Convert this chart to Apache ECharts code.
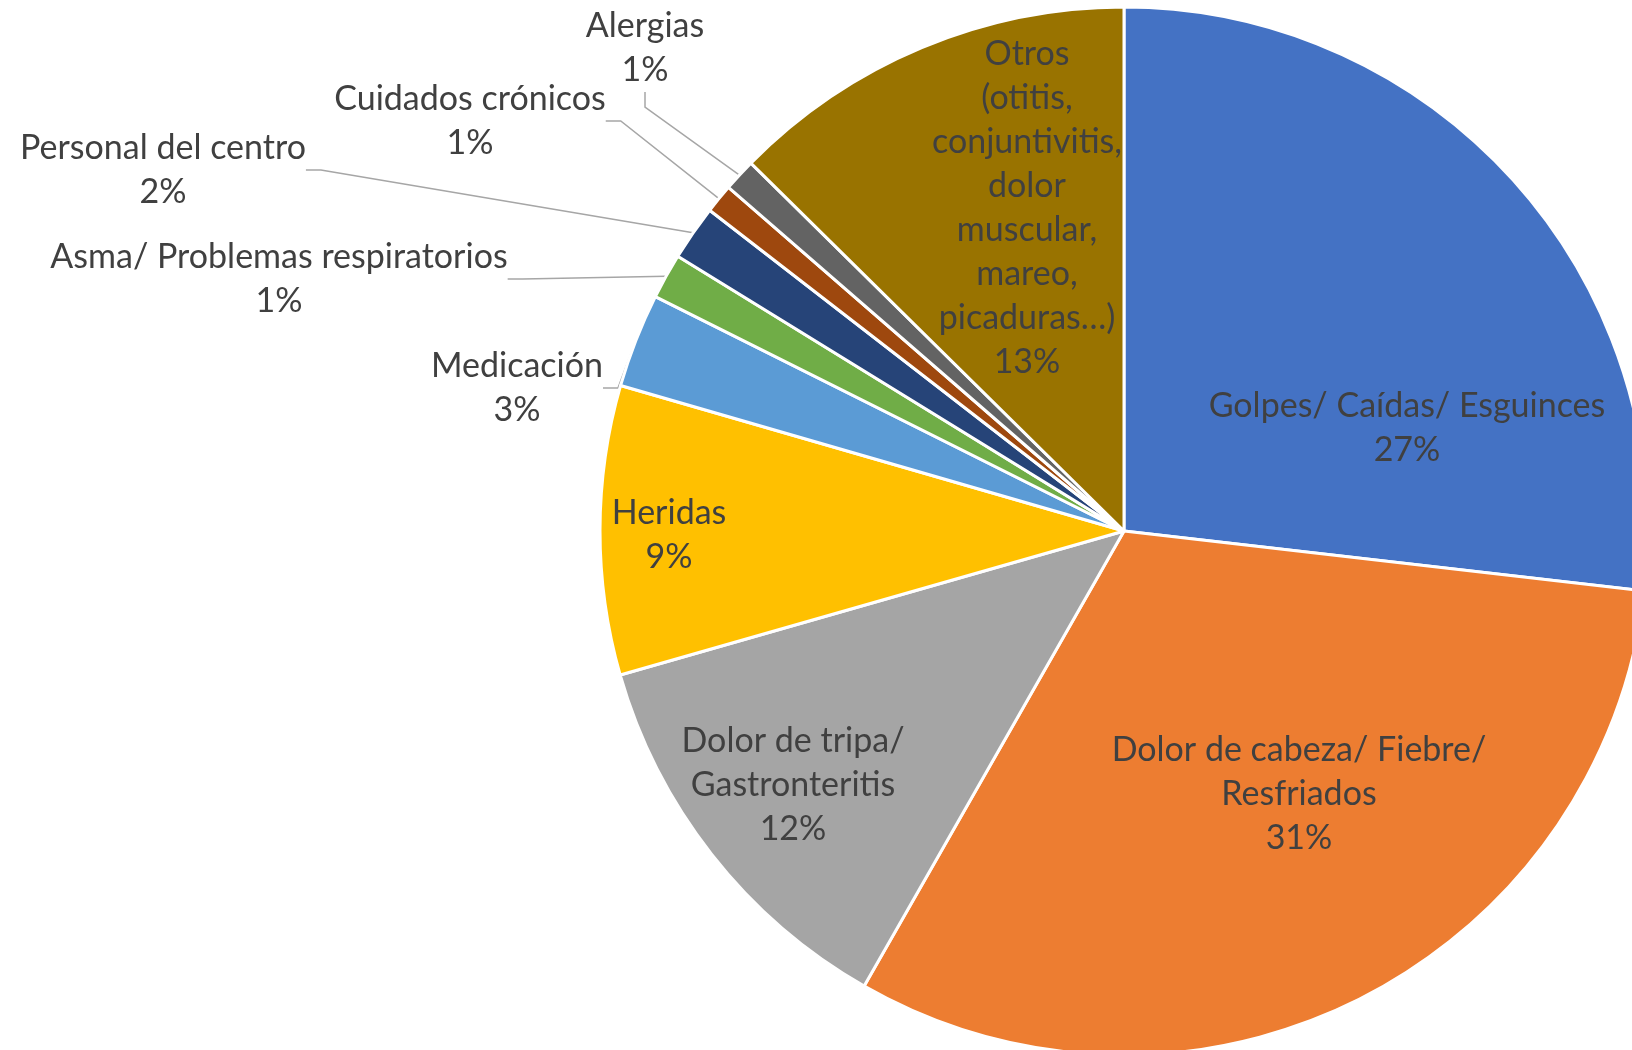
<!DOCTYPE html>
<html lang="es">
<head>
    <meta charset="UTF-8">
    <title>Atenciones</title>
    <script src="https://cdn.jsdelivr.net/npm/echarts@6/dist/echarts.min.js"></script>
    <style>
        html, body { margin: 0; padding: 0; background: #fff; }
        #main { width: 1632px; height: 1050px; }
    </style>
</head>
<body>
<div id="main"></div>
<script>
    // categorias (saltos de linea como en el original)
    var categories = [
        'Golpes/ Caídas/ Esguinces',
        'Dolor de cabeza/ Fiebre/\nResfriados',
        'Dolor de tripa/\nGastronteritis',
        'Heridas',
        'Medicación',
        'Asma/ Problemas respiratorios',
        'Personal del centro',
        'Cuidados crónicos',
        'Alergias',
        'Otros\n(otitis,\nconjuntivitis,\ndolor\nmuscular,\nmareo,\npicaduras…)'
    ];
    // porcentajes
    var values = [26.8, 31.4, 12.3, 8.9, 2.9, 1.4, 1.7, 0.9, 1.0, 12.6];
    var colors = ['#4472C4', '#ED7D31', '#A5A5A5', '#FFC000', '#5B9BD5', '#70AD47', '#264478', '#9E480E', '#636363', '#997300'];
    var outside = [false, false, false, false, true, true, true, true, true, false];

    // centro de cada etiqueta, px desde el centro de la tarta
    var labelSpots = [
        [283, -103], [175, 263], [-331, 254], [-455, 4], [-607, -143],
        [-845, -252], [-961, -361], [-654, -410], [-479, -483], [-97, -323]
    ];
    var cx = 1124, cy = 531;

    var myChart = echarts.init(document.getElementById('main'));

    var seriesData = [];
    for (var i = 0; i < values.length; i++) {
        seriesData.push({
            name: categories[i],
            value: values[i],
            itemStyle: { color: colors[i] },
            label: { position: outside[i] ? 'outside' : 'inside' },
            labelLine: { show: outside[i] }
        });
    }

    myChart.setOption({
        animation: false,
        series: [{
            type: 'pie',
            center: [cx, cy],
            radius: 524,
            startAngle: 90,
            clockwise: true,
            avoidLabelOverlap: false,
            data: seriesData,
            itemStyle: { borderColor: '#fff', borderWidth: 3 },
            emphasis: { disabled: true },
            label: {
                color: '#404040',
                fontFamily: 'Lato',
                fontSize: 34,
                lineHeight: 44,
                align: 'center',
                formatter: function (p) {
                    return p.name + '\n' + Math.round(p.percent) + '%';
                }
            },
            labelLine: {
                length: 10,
                length2: 15,
                lineStyle: { color: '#a6a6a6', width: 1.5 }
            },
            labelLayout: function (params) {
                var s = labelSpots[params.dataIndex];
                return {
                    x: cx + s[0],
                    y: cy + s[1],
                    align: 'center',
                    verticalAlign: 'middle'
                };
            }
        }]
    });
</script>
</body>
</html>
